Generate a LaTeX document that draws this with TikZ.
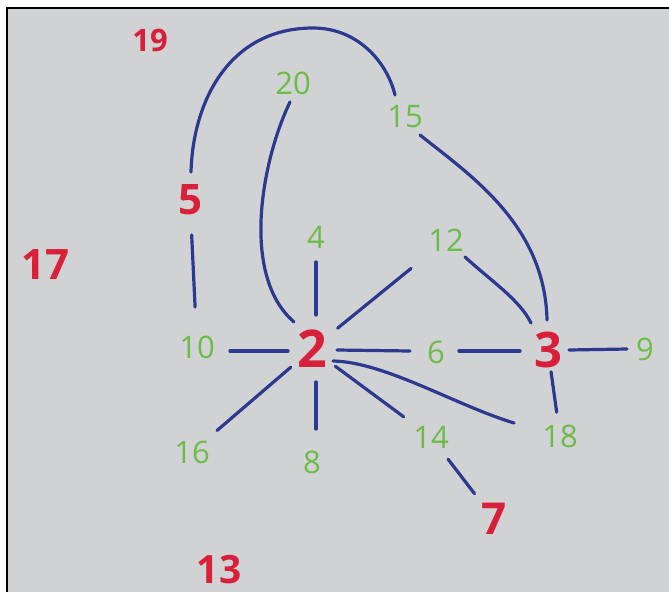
\documentclass[tikz,border=0pt]{standalone}
\usepackage{fontspec}
\setmainfont{Open Sans}
\definecolor{paper}{HTML}{D1D2D4}
\definecolor{pen}{HTML}{2B3A8E}
\definecolor{gr}{HTML}{6DBB48}
\definecolor{rd}{HTML}{D8203A}
\tikzset{
  gl/.style={text=gr, inner sep=0pt, font=\fontsize{31}{31}\selectfont},
  rl/.style={text=rd, inner sep=0pt, font=\fontsize{#1}{#1}\selectfont\bfseries},
  ed/.style={draw=pen, line width=3.2pt, line cap=round},
}
\begin{document}
\begin{tikzpicture}[x=1pt,y=-1pt]
\useasboundingbox (0,0) rectangle (669,592);
\fill[paper] (7,8) rectangle (669,592);
\draw[black, line width=2pt] (7,592) -- (7,8) -- (669,8);
% red nodes
\node[rl=31] (n19) at (150,40) {19};
\node[rl=42] (n5) at (190,200) {5};
\node[rl=42] (n17) at (45,265) {17};
\node[rl=52] (n2) at (312,349) {2};
\node[rl=49] (n3) at (548,350) {3};
\node[rl=44] (n7) at (494,519) {7};
\node[rl=39] (n13) at (219,570) {13};
% green nodes
\node[gl] (n20) at (293,83) {20};
\node[gl] (n15) at (405,117) {15};
\node[gl] (n4) at (316,237) {4};
\node[gl] (n12) at (446,240) {12};
\node[gl] (n10) at (197,347) {10};
\node[gl] (n6) at (436,352) {6};
\node[gl] (n9) at (645,349) {9};
\node[gl] (n16) at (192,452) {16};
\node[gl] (n8) at (312,462) {8};
\node[gl] (n14) at (431,437) {14};
\node[gl] (n18) at (560,436) {18};
% straight edges
\draw[ed] ([shift={(4,-34)}]n2.center) -- ([shift={(0,25)}]n4.center);
\draw[ed] ([shift={(-24,2)}]n2.center) -- ([shift={(33,4)}]n10.center);
\draw[ed] ([shift={(25,1)}]n2.center) -- ([shift={(-26,-1)}]n6.center);
\draw[ed] ([shift={(23,-1)}]n6.center) -- ([shift={(-28,1)}]n3.center);
\draw[ed] ([shift={(21,0)}]n3.center) -- ([shift={(-18,0)}]n9.center);
\draw[ed, shorten <=22pt, shorten >=24pt] (n3.center) -- (n18.center);
\draw[ed, shorten <=29pt, shorten >=34pt] (n2.center) -- (n14.center);
\draw[ed] ([shift={(4,33)}]n2.center) -- ([shift={(4,-33)}]n8.center);
\draw[ed, shorten <=28pt, shorten >=33pt] (n2.center) -- (n16.center);
\draw[ed, shorten <=33pt, shorten >=45pt] (n2.center) -- (n12.center);
\draw[ed, shorten <=28pt, shorten >=32pt] (n14.center) -- (n7.center);
\draw[ed, shorten <=35pt, shorten >=40pt] (n5.center) -- (n10.center);
% curved edges
\draw[ed] ([shift={(1,-28)}]n5.center) .. controls (193,100) and (230,28) .. (313,28)
          .. controls (360,28) and (388,65) .. ([shift={(-10,-22)}]n15.center);
\draw[ed] ([shift={(15,18)}]n15.center) .. controls (470,175) and (545,225) .. ([shift={(-1,-30)}]n3.center);
\draw[ed] ([shift={(19,17)}]n12.center) .. controls (490,280) and (520,300) .. ([shift={(-17,-27)}]n3.center);
\draw[ed] ([shift={(-3,19)}]n20.center) .. controls (262,160) and (240,275) .. ([shift={(-18,-27)}]n2.center);
\draw[ed] ([shift={(21,12)}]n2.center) .. controls (385,362) and (455,405) .. ([shift={(-46,-13)}]n18.center);
\end{tikzpicture}
\end{document}
